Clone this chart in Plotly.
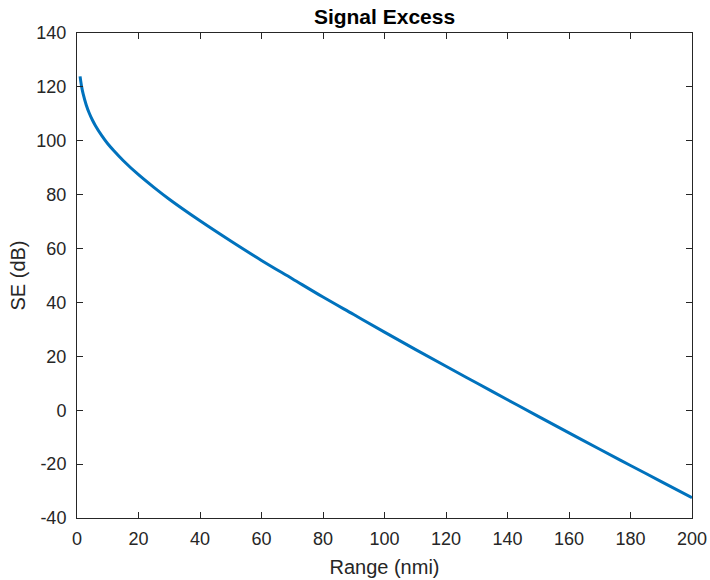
import plotly.graph_objects as go

# Range (nmi) and signal excess (dB)
range_nmi = [1, 1.5, 2, 3, 4, 5, 6, 8, 10, 12, 15, 20, 25, 30, 40, 50, 60, 70, 80,
             90, 100, 110, 120, 130, 140, 150, 160, 170, 180, 190, 200]
se_db = [123.9, 120.1, 117.4, 113.3, 110.2, 107.7, 105.6, 102.0, 98.9, 96.3, 92.7,
         87.4, 82.7, 78.3, 70.3, 62.8, 55.6, 48.8, 42.0, 35.5, 29.0, 22.6, 16.3,
         10.1, 3.9, -2.3, -8.4, -14.5, -20.5, -26.5, -32.5]

x_ticks = [0, 20, 40, 60, 80, 100, 120, 140, 160, 180, 200]
y_ticks = [-40, -20, 0, 20, 40, 60, 80, 100, 120, 140]

font_family = "Liberation Sans, Arial, Helvetica, sans-serif"
axis_color = "#262626"

fig = go.Figure()
fig.add_trace(go.Scatter(
    x=range_nmi, y=se_db, mode="lines",
    line=dict(color="#0072BD", width=3, shape="spline"),
    showlegend=False,
))

axis_common = dict(
    showgrid=False, zeroline=False, showline=True, linecolor="#262626", linewidth=1,
    mirror="ticks", ticks="inside", ticklen=6, tickcolor="#262626",
    tickfont=dict(family=font_family, size=18, color=axis_color),
    title_font=dict(family=font_family, size=20, color=axis_color),
    automargin=False,
)

fig.update_layout(
    width=710, height=580,
    margin=dict(l=77, r=18, t=33, b=62),
    paper_bgcolor="white", plot_bgcolor="white",
    title=dict(text="<b>Signal Excess</b>", x=0.5, xref="paper", xanchor="center",
               y=1 - 17 / 580, yref="container", yanchor="middle", automargin=False,
               font=dict(family=font_family, size=21, color="black")),
    xaxis=dict(range=[0, 200], tickvals=x_ticks, ticktext=[str(v) for v in x_ticks],
               ticklabelstandoff=4,
               title=dict(text="Range (nmi)", standoff=12), **axis_common),
    yaxis=dict(range=[-40, 140], tickvals=y_ticks, ticktext=[str(v) for v in y_ticks],
               ticklabelstandoff=6,
               title=dict(text="SE (dB)", standoff=5), **axis_common),
)

# Remove the default page margin so the figure fills the 710x580 window exactly
fig.write_html(
    "out.html",
    config={"displayModeBar": False},
    post_script="document.body.style.margin='0';document.body.style.overflow='hidden';",
)
